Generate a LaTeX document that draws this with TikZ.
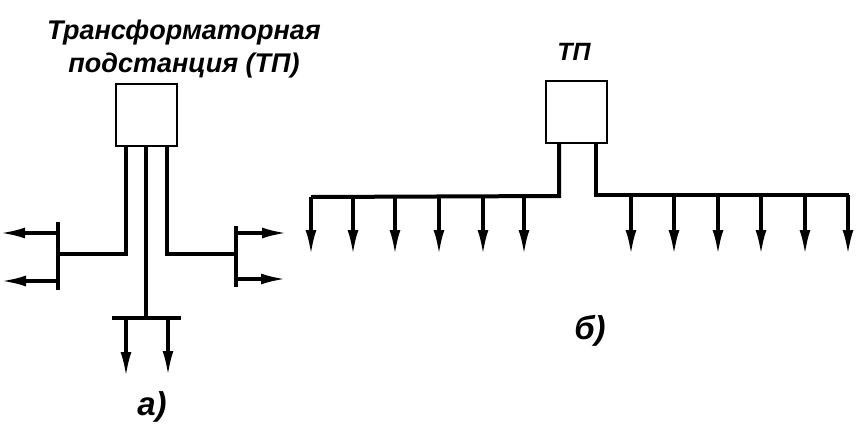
\documentclass[tikz,border=0pt]{standalone}
\usepackage{fontspec}
\setmainfont{Liberation Sans}
\usetikzlibrary{arrows.meta}

\begin{document}
\begin{tikzpicture}[x=1pt, y=-1pt,
	every node/.style={font=\itshape\fontsize{25}{29}\selectfont, inner sep=0pt},
	station/.style={draw, line width=2pt, minimum width=61pt, minimum height=62pt},
	title/.style={font=\bfseries\itshape\fontsize{27}{33}\selectfont},
	mark label/.style={font=\bfseries\itshape\fontsize{33}{36}\selectfont},
	wire/.style={line width=4pt, line join=miter},
	feeder/.style={line width=3.4pt, -{Latex[length=25pt,width=11pt]}, shorten >=-1pt},]

    \useasboundingbox (0,0) rectangle (861,445);

    % scheme a
    \node[station] (tpa) at (146,115) {};
    \node[title, align=center] (titlea) at (184,49) {Трансформаторная\\подстанция (ТП)};
    \node[mark label] (labela) at (152,407) {а)};

    \coordinate (ajl) at (126,254);
    \coordinate (ajc) at (146,318);
    \coordinate (ajr) at (167,254);
    \coordinate (abl) at (58,254);
    \coordinate (abr) at (236,254);
    \coordinate (acl) at (112,318);
    \coordinate (acr) at (181,318);
    \draw[wire] (tpa.south -| ajl) -- (ajl) -- (abl);
    \draw[wire] (tpa.south -| ajr) -- (ajr) -- (abr);
    \draw[wire] (tpa.south -| ajc) -- (ajc);
    \draw[wire] (58,222) coordinate (abl1) -- (58,290) coordinate (abl2);
    \draw[wire] (236,226) coordinate (abr1) -- (236,287) coordinate (abr2);
    \draw[wire] (acl) -- (acr);

    \coordinate (aw1) at (1,233);
    \coordinate (aw2) at (2,281);
    \coordinate (ae1) at (286,233);
    \coordinate (ae2) at (285,279);
    \coordinate (as1) at (126,376);
    \coordinate (as2) at (168,375);
    \draw[feeder] (aw1 -| abl) -- (aw1);
    \draw[feeder] (aw2 -| abl) -- (aw2);
    \draw[feeder] (ae1 -| abr) -- (ae1);
    \draw[feeder] (ae2 -| abr) -- (ae2);
    \draw[feeder] (as1 |- acl) -- (as1);
    \draw[feeder] (as2 |- acl) -- (as2);

    % scheme b
    \node[station] (tpb) at (576,112) {};
    \node[font=\bfseries\itshape\fontsize{25}{29}\selectfont] (titleb) at (574,52) {ТП};
    \node[mark label] (labelb) at (590,331) {б)};

    \coordinate (bjl) at (559,196);
    \coordinate (bjr) at (596,195);
    \coordinate (bbl) at (311,197);
    \coordinate (bbr) at (849,195);
    \draw[wire] (tpb.south -| bjl) -- (bjl) -- (bbl);
    \draw[wire] (tpb.south -| bjr) -- (bjr) -- (bbr);

    \foreach \x in {311,353,395,439,483,524} {
	\coordinate (bl\x) at (\x,254);
	\draw[feeder] (bl\x |- bbl) -- (bl\x);
    }
    \foreach \x in {631,674,718,761,805,848} {
	\coordinate (br\x) at (\x,254);
	\draw[feeder] (br\x |- bbr) -- (br\x);
    }
\end{tikzpicture}
\end{document}
